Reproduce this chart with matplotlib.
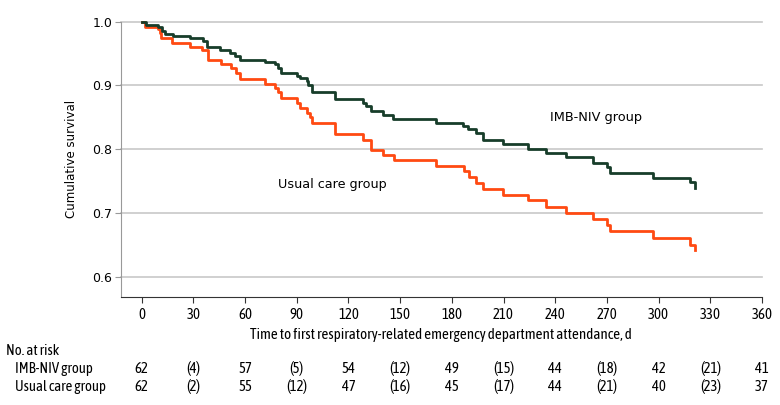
import matplotlib
matplotlib.use("Agg")
import matplotlib.pyplot as plt
from matplotlib.transforms import blended_transform_factory

# Kaplan-Meier steps (day, survival after the step)
imb_days = [0, 2.5, 9.7, 11.6, 13.5, 18.3, 28, 35.7, 37.7, 45.4, 51, 54, 57,
            71.5, 77.3, 79, 81, 90, 91.8, 95.7, 96.6, 98.6, 112, 128.5, 130,
            133, 140, 146, 171, 186.5, 189.5, 194, 198, 209.7, 224, 234.5,
            246, 262, 270, 272, 297, 318.4, 321]
imb_surv = [1.0, 0.995, 0.991, 0.985, 0.980, 0.978, 0.975, 0.970, 0.960,
            0.956, 0.951, 0.946, 0.940, 0.937, 0.933, 0.927, 0.920, 0.915,
            0.911, 0.907, 0.901, 0.890, 0.878, 0.873, 0.868, 0.860, 0.854,
            0.847, 0.841, 0.836, 0.831, 0.825, 0.814, 0.808, 0.800, 0.794,
            0.787, 0.779, 0.772, 0.763, 0.755, 0.749, 0.739]

usual_days = [0, 2, 9.7, 10.6, 11.2, 17.6, 28, 35, 38.3, 46, 52, 55, 57,
              71.5, 77.3, 79, 81, 90, 91.8, 95.7, 97.6, 98.6, 112, 128.5,
              132.8, 139.8, 146.3, 171, 187, 190, 194, 198, 209.7, 224,
              234.5, 246, 262, 270, 272, 297, 318.4, 321]
usual_surv = [1.0, 0.992, 0.988, 0.982, 0.974, 0.967, 0.960, 0.955, 0.940,
              0.934, 0.928, 0.920, 0.910, 0.902, 0.896, 0.889, 0.881, 0.872,
              0.865, 0.857, 0.851, 0.841, 0.823, 0.815, 0.799, 0.791, 0.783,
              0.774, 0.765, 0.756, 0.747, 0.737, 0.728, 0.720, 0.710, 0.700,
              0.690, 0.681, 0.671, 0.660, 0.650, 0.641]

risk_days = [0, 30, 60, 90, 120, 150, 180, 210, 240, 270, 300, 330, 360]
imb_risk = ["62", "(4)", "57", "(5)", "54", "(12)", "49", "(15)", "44",
            "(18)", "42", "(21)", "41"]
usual_risk = ["62", "(2)", "55", "(12)", "47", "(16)", "45", "(17)", "44",
              "(21)", "40", "(23)", "37"]

green = "#173d2a"
orange = "#ff4a12"
narrow = ["Asap Condensed", "Liberation Sans"]
wide = ["DejaVu Sans"]
fs = 10.6

plt.rcParams["font.family"] = narrow

fig = plt.figure(figsize=(7.8, 4.05), dpi=100)
ax = fig.add_axes([0.1547, 0.2667, 0.977 - 0.1547, 0.9464 - 0.2667])

for y in [0.6, 0.7, 0.8, 0.9, 1.0]:
    ax.axhline(y, color="#c8c8c8", lw=1.2, zorder=0, clip_on=False)

ax.step(imb_days, imb_surv, where="post", color=green, lw=2,
        clip_on=False, zorder=3)
ax.step(usual_days, usual_surv, where="post", color=orange, lw=2,
        clip_on=False, zorder=2)

ax.set_xlim(-12.2, 360)
ax.set_ylim(0.568, 1.0)
ax.set_xticks(risk_days)
ax.set_yticks([0.6, 0.7, 0.8, 0.9, 1.0])
ax.set_yticklabels(["0.6", "0.7", "0.8", "0.9", "1.0"], family=wide, fontsize=9)
ax.tick_params(axis="x", labelsize=fs, length=4, color="#333333", pad=4)
ax.tick_params(axis="y", length=4, color="#999999", pad=2)

for s in ["top", "right"]:
    ax.spines[s].set_visible(False)
ax.spines["left"].set_color("#999999")
ax.spines["bottom"].set_color("#333333")

ax.set_xlabel("Time to first respiratory-related emergency department attendance, d",
              fontsize=10.8, labelpad=4)
ax.set_ylabel("Cumulative survival", family=wide, fontsize=8.5, labelpad=10)

ax.text(237, 0.850, "IMB-NIV group", family=wide, fontsize=9.3,
        va="center", ha="left")
ax.text(79, 0.745, "Usual care group", family=wide, fontsize=9.2,
        va="center", ha="left")

tr = blended_transform_factory(ax.transData, fig.transFigure)
fig.text(6 / 780, 1 - 351 / 405, "No. at risk", fontsize=fs, va="center")
fig.text(15 / 780, 1 - 369 / 405, "IMB-NIV group", fontsize=fs, va="center")
fig.text(15 / 780, 1 - 387 / 405, "Usual care group", fontsize=fs, va="center")
for d, a, b in zip(risk_days, imb_risk, usual_risk):
    ax.text(d, 1 - 369 / 405, a, transform=tr, ha="center", va="center",
            fontsize=fs)
    ax.text(d, 1 - 387 / 405, b, transform=tr, ha="center", va="center",
            fontsize=fs)

fig.savefig("out.png", dpi=100)
